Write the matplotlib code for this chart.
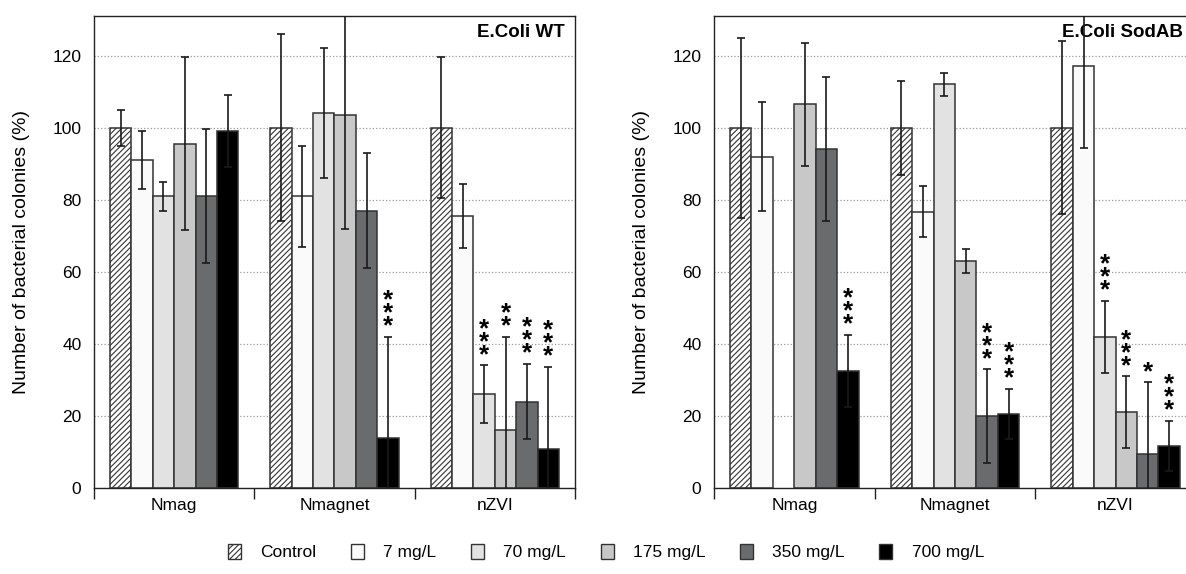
import numpy as np
import matplotlib
matplotlib.use("Agg")
import matplotlib.pyplot as plt
from matplotlib.patches import Patch

plt.rcParams["font.family"] = ["Liberation Sans", "DejaVu Sans"]
plt.rcParams["hatch.linewidth"] = 0.8

groups = ["Nmag", "Nmagnet", "nZVI"]
concs = ["Control", "7 mg/L", "70 mg/L", "175 mg/L", "350 mg/L", "700 mg/L"]

# rows = concentration, cols = group (Nmag, Nmagnet, nZVI)
wt_mean = [[100, 100, 100],
           [91, 81, 75.5],
           [81, 104, 26],
           [95.5, 103.5, 16],
           [81, 77, 24],
           [99, 14, 10.7]]
wt_err = [[5, 26, 19.5],
          [8, 14, 9],
          [4, 18, 8],
          [24, 31.5, 26],
          [18.5, 16, 10.5],
          [10, 28, 23]]
wt_sig = {(1, 5): "***", (2, 2): "***", (2, 3): "**", (2, 4): "***", (2, 5): "***"}

sod_mean = [[100, 100, 100],
            [92, 76.7, 117],
            [np.nan, 112, 42],
            [106.5, 63, 21],
            [94, 20, 9.4],
            [32.5, 20.6, 11.7]]
sod_err = [[25, 13, 24],
           [15, 7, 22.5],
           [np.nan, 3.2, 10],
           [17, 3.2, 10],
           [20, 13, 20],
           [10, 7, 7]]
sod_sig = {(0, 5): "***", (1, 4): "***", (1, 5): "***",
           (2, 2): "***", (2, 3): "***", (2, 4): "*", (2, 5): "***"}

colors = ["white", "#fafafa", "#e1e2e1", "#c8c8c8", "#6a6b6d", "#000000"]
hatches = ["//////", None, None, None, None, None]
edge = "#333333"

W, H = 1186, 574
fig = plt.figure(figsize=(W / 100, H / 100), dpi=100)

bar_w = 0.1333
group_pad = 0.1


def draw_panel(ax, mean, err, sig, title, title_x):
    mean = np.array(mean, dtype=float)
    err = np.array(err, dtype=float)
    for i in range(len(concs)):
        x = np.arange(len(groups)) + group_pad + (i + 0.5) * bar_w
        ax.bar(x, mean[i], width=bar_w, color=colors[i], edgecolor=edge,
               linewidth=1.1, hatch=hatches[i], zorder=2)
        ax.errorbar(x, mean[i], yerr=err[i], fmt="none", ecolor="#1a1a1a",
                    elinewidth=1.2, capsize=3, capthick=1.2, zorder=3)
    # significance stars stacked vertically above the error bar
    for (g, i), s in sig.items():
        x = g + group_pad + (i + 0.5) * bar_w
        y = mean[i, g] + err[i, g]
        ax.text(x, y - 0.5, "\n".join(s), ha="center", va="bottom",
                fontsize=18.5, fontweight="bold", linespacing=0.42, zorder=4)

    ax.set_xlim(0, 3)
    ax.set_ylim(0, 131)
    ax.set_yticks(range(0, 121, 20))
    ax.yaxis.grid(True, linestyle=":", color="#9a9a9a", linewidth=0.9)
    ax.set_axisbelow(True)
    ax.tick_params(axis="y", length=0, pad=9, labelsize=12.5)

    ax.set_xticks([0.5, 1.5, 2.5])
    ax.set_xticklabels(groups)
    ax.set_xticks([0, 1, 2, 3], minor=True)
    ax.tick_params(axis="x", which="major", length=0, pad=7, labelsize=12.5)
    ax.tick_params(axis="x", which="minor", length=8, width=1.0, color="#222")
    for sp in ax.spines.values():
        sp.set_color("#222")
        sp.set_linewidth(1.0)

    ax.set_ylabel("Number of bacterial colonies (%)", fontsize=14, labelpad=16)
    ax.text(title_x, 0.964, title, transform=ax.transAxes, ha="right", va="center",
            fontsize=13.5, fontweight="bold", zorder=2.5)


bottom = (H - 488) / H
height = (488 - 16) / H
ax1 = fig.add_axes([94 / W, bottom, (575 - 94) / W, height])
ax2 = fig.add_axes([714 / W, bottom, (1196 - 714) / W, height])

draw_panel(ax1, wt_mean, wt_err, wt_sig, "E.Coli WT", 0.979)
draw_panel(ax2, sod_mean, sod_err, sod_sig, "E.Coli SodAB", (1183 - 714) / 482)

handles = [Patch(facecolor=colors[i], edgecolor=edge, hatch=hatches[i], linewidth=1.0)
           for i in range(len(concs))]
fig.legend(handles, concs, loc="center", bbox_to_anchor=(0.511, 0.038), ncol=6,
           frameon=False, fontsize=12.5, handlelength=0.75, handleheight=0.95,
           handletextpad=1.1, columnspacing=2.0)

fig.savefig("out.png", dpi=100)
